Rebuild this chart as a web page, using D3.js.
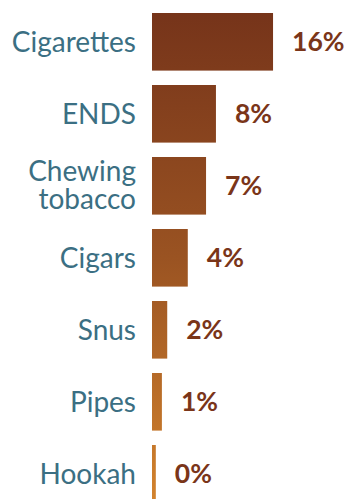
<!DOCTYPE html>
<html>
<head>
<meta charset="utf-8">
<script src="https://cdn.jsdelivr.net/npm/d3@7"></script>
<style>
  html, body { margin: 0; padding: 0; background: #ffffff; }
  svg { display: block; }
</style>
</head>
<body>
<svg id="chart" width="347" height="499"></svg>
<script>
const categories = ["Cigarettes", "ENDS", "Chewing tobacco", "Cigars", "Snus", "Pipes", "Hookah"];
const values = [15.9, 8.4, 7.1, 4.7, 2.0, 1.3, 0.5];
const valueLabels = ["16%", "8%", "7%", "4%", "2%", "1%", "0%"];

const W = 347, H = 499;
const svg = d3.select("#chart");
const barLeft = 152;

const y = d3.scaleBand()
  .domain(categories)
  .range([5.8, 509.8])
  .paddingInner(0.2)
  .paddingOuter(0.1);

const x = d3.scaleLinear()
  .domain([0, 16])
  .range([barLeft, barLeft + 121.8]);

const defs = svg.append("defs");
const grad = defs.append("linearGradient")
  .attr("id", "barGrad")
  .attr("gradientUnits", "userSpaceOnUse")
  .attr("x1", 0).attr("x2", 0)
  .attr("y1", y(categories[0]))
  .attr("y2", y(categories[categories.length - 1]) + y.bandwidth());
grad.append("stop").attr("offset", "0%").attr("stop-color", "#76341a");
grad.append("stop").attr("offset", "50%").attr("stop-color", "#9a5322");
grad.append("stop").attr("offset", "100%").attr("stop-color", "#d3832d");

const rows = categories.map((c, i) => ({ c, v: values[i], lab: valueLabels[i] }));

svg.append("g").selectAll("rect")
  .data(rows)
  .join("rect")
  .attr("x", x(0))
  .attr("y", d => y(d.c))
  .attr("width", d => x(d.v) - x(0))
  .attr("height", y.bandwidth())
  .attr("fill", "url(#barGrad)");

const labG = svg.append("g")
  .attr("font-family", "Lato, 'Open Sans', sans-serif")
  .attr("font-size", 28)
  .attr("fill", "#3b6f83")
  .attr("text-anchor", "end");

rows.forEach(d => {
  const cy = y(d.c) + y.bandwidth() / 2;
  const t = labG.append("text").attr("x", 136).attr("y", cy);
  if (d.c === "Chewing tobacco") {
    t.append("tspan").attr("x", 136).attr("dy", "-0.175em").text("Chewing");
    t.append("tspan").attr("x", 136).attr("dy", "1.0em").text("tobacco");
  } else {
    t.attr("dy", "0.35em").text(d.c);
  }
});

svg.append("g")
  .attr("font-family", "Lato, 'Open Sans', sans-serif")
  .attr("font-size", 26.5)
  .attr("font-weight", "bold")
  .attr("fill", "#7a3519")
  .selectAll("text")
  .data(rows)
  .join("text")
  .attr("x", d => x(d.v) + 19)
  .attr("y", d => y(d.c) + y.bandwidth() / 2)
  .attr("dy", "0.36em")
  .text(d => d.lab);
</script>
</body>
</html>
